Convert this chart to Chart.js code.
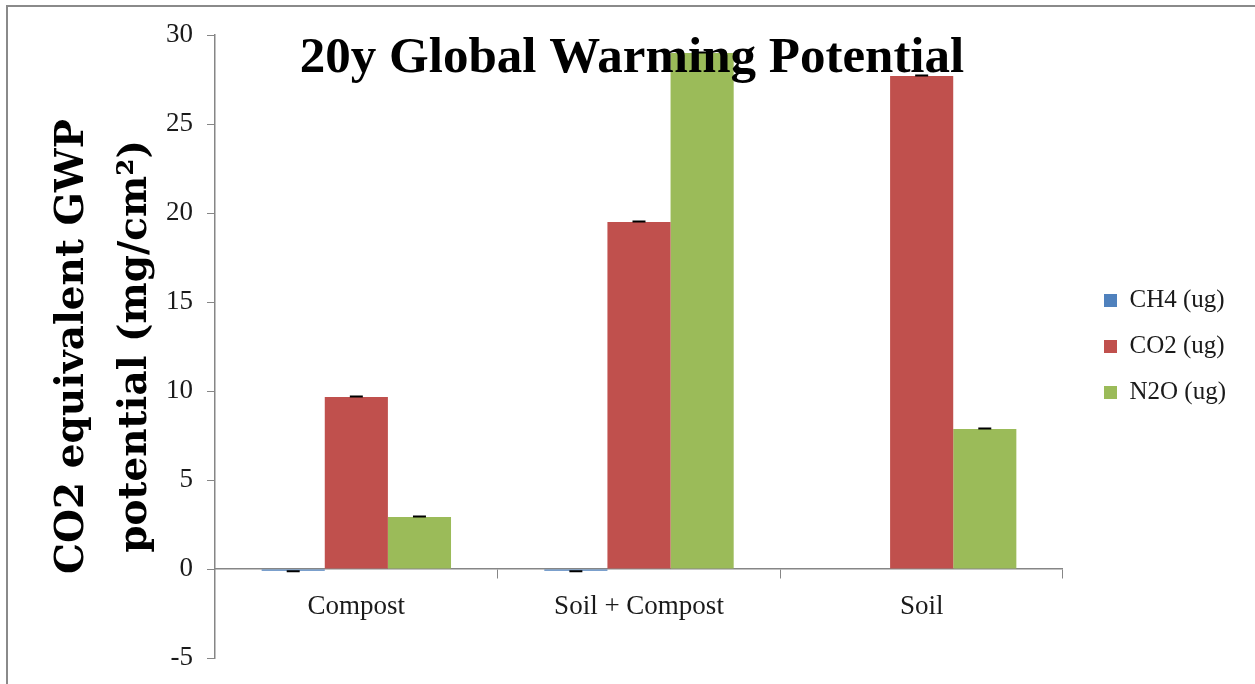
<!DOCTYPE html>
<html>
<head>
<meta charset="utf-8">
<script src="https://cdn.jsdelivr.net/npm/chart.js@4.4.0/dist/chart.umd.min.js"></script>
<style>
  html, body { margin: 0; padding: 0; background: #ffffff; overflow: hidden; }
  #wrap { position: relative; width: 1255px; height: 684px; }
  #frame { position: absolute; left: 6px; top: 5px; width: 1300px; height: 720px;
           border-top: 2px solid #8a8a8a; border-left: 2px solid #8a8a8a; pointer-events: none; }
  canvas { position: absolute; left: 0; top: 0; }
</style>
</head>
<body>
<div id="wrap">
  <canvas id="gwp" width="1255" height="684"></canvas>
  <div id="frame"></div>
</div>
<script>
// Treatments along the x axis
const categories = ['Compost', 'Soil + Compost', 'Soil'];

// CO2-equivalent 20-year GWP (mg/cm2) per gas
const ch4Values = [-0.1, -0.1, 0];
const co2Values = [9.66, 19.49, 27.70];
const n2oValues = [2.92, 28.99, 7.87];

// Standard errors
const ch4Errors = [0.03, 0.03, 0];
const co2Errors = [0.03, 0.03, 0.03];
const n2oErrors = [0.03, 0.03, 0.03];

const seriesNames = ['CH4 (ug)', 'CO2 (ug)', 'N2O (ug)'];
const seriesColors = ['#4F81BD', '#C0504D', '#9BBB59'];

const yTicks = [-5, 0, 5, 10, 15, 20, 25, 30];

const chartTitle = '20y Global Warming Potential';
const yTitle = ['CO2 equivalent GWP', 'potential (mg/cm\u00B2)'];

const SERIF = "'Liberation Serif', 'DejaVu Serif', serif";
const WIDE_SERIF = "'DejaVu Serif', 'Liberation Serif', serif";
const AXIS_GRAY = '#868686';

// Error caps drawn at the end of each bar
const errorBarPlugin = {
  id: 'errorBars',
  afterDatasetsDraw(chart) {
    const ctx = chart.ctx;
    const yScale = chart.scales.y;
    ctx.save();
    ctx.strokeStyle = '#000000';
    ctx.lineWidth = 2;
    chart.data.datasets.forEach((ds, di) => {
      const meta = chart.getDatasetMeta(di);
      meta.data.forEach((bar, i) => {
        const v = ds.data[i];
        const e = ds.errors[i];
        if (!v || !e) return;
        const end = v + Math.sign(v) * e;
        const yv = yScale.getPixelForValue(v);
        const ye = yScale.getPixelForValue(end);
        const cx = bar.x;
        ctx.beginPath();
        ctx.moveTo(cx, yv);
        ctx.lineTo(cx, ye);
        ctx.moveTo(cx - 6.5, ye);
        ctx.lineTo(cx + 6.5, ye);
        ctx.stroke();
      });
    });
    ctx.restore();
  }
};

// Chart heading laid over the top of the plot area
const headingPlugin = {
  id: 'heading',
  afterDatasetsDraw(chart) {
    const ctx = chart.ctx;
    const area = chart.chartArea;
    ctx.save();
    ctx.font = "bold 51px " + SERIF;
    ctx.fillStyle = '#000000';
    ctx.textAlign = 'center';
    ctx.textBaseline = 'alphabetic';
    ctx.fillText(chartTitle, area.left + 417, area.top + 37);
    ctx.restore();
  }
};

const datasets = [ch4Values, co2Values, n2oValues].map((vals, k) => ({
  label: seriesNames[k],
  data: vals,
  errors: [ch4Errors, co2Errors, n2oErrors][k],
  backgroundColor: seriesColors[k],
  borderWidth: 0,
  categoryPercentage: 0.67,
  barPercentage: 1.0
}));

new Chart(document.getElementById('gwp'), {
  type: 'bar',
  data: { labels: categories, datasets: datasets },
  options: {
    responsive: false,
    devicePixelRatio: 1,
    animation: false,
    layout: { padding: { left: 0, top: 35, bottom: 26, right: 19 } },
    plugins: {
      title: { display: false },
      tooltip: { enabled: false },
      legend: {
        position: 'right',
        align: 'center',
        labels: {
          boxWidth: 13,
          boxHeight: 13,
          padding: 21,
          color: '#1a1a1a',
          font: { family: SERIF, size: 25 }
        }
      }
    },
    scales: {
      x: {
        position: { y: 0 },
        grid: { display: true, drawOnChartArea: false, drawTicks: true, tickLength: 9, color: AXIS_GRAY, offset: true },
        border: { display: true, color: AXIS_GRAY, width: 1.5 },
        ticks: { color: '#1a1a1a', padding: 13, font: { family: SERIF, size: 27 } }
      },
      y: {
        position: 'left',
        min: -5,
        max: 30,
        afterBuildTicks(scale) { scale.ticks = yTicks.map(v => ({ value: v })); },
        afterFit(scale) {
          scale.width = 215;
          scale.paddingTop = 0;
          scale.paddingBottom = 0;
        },
        grid: { display: true, drawOnChartArea: false, drawTicks: true, tickLength: 8, color: AXIS_GRAY },
        border: { display: true, color: AXIS_GRAY, width: 1.5 },
        ticks: { color: '#1a1a1a', padding: 14, font: { family: SERIF, size: 27 } },
        title: {
          display: true,
          text: yTitle,
          color: '#000000',
          padding: { top: 41, bottom: 0 },
          font: { family: WIDE_SERIF, size: 39, weight: 'bold', lineHeight: 1.62 }
        }
      },
      gap: {
        type: 'linear',
        position: 'right',
        display: true,
        grid: { display: false },
        border: { display: false },
        ticks: { display: false },
        afterFit(scale) { scale.width = 20; }
      }
    }
  },
  plugins: [errorBarPlugin, headingPlugin]
});
</script>
</body>
</html>
